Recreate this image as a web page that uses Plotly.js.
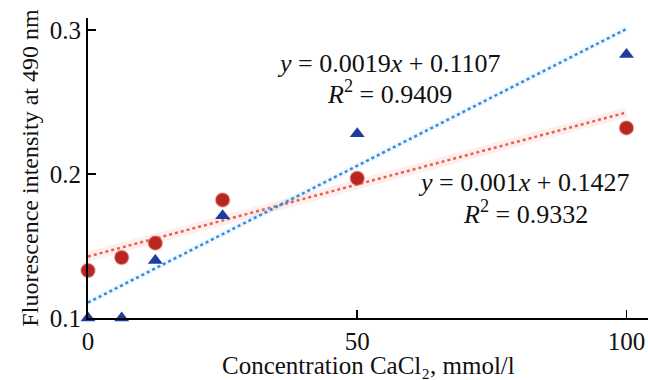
<!DOCTYPE html>
<html>
<head>
<meta charset="utf-8">
<script src="https://cdn.plot.ly/plotly-3.0.1.min.js"></script>
<style>html,body{margin:0;padding:0;background:#fff;}#chart{width:648px;height:380px;}</style>
</head>
<body>
<div id="chart"></div>
<script>
// Data
var conc = [0, 6.25, 12.5, 25, 50, 100];
var redValues = [0.133, 0.142, 0.152, 0.182, 0.197, 0.232];
var blueValues = [0.100, 0.100, 0.140, 0.171, 0.228, 0.283];
var redFit = {slope: 0.001, intercept: 0.1427, r2: 0.9332};
var blueFit = {slope: 0.0019, intercept: 0.1107, r2: 0.9409};
var fitX = [0, 100];
var xTicks = [0, 50, 100];
var yTicks = [0.1, 0.2, 0.3];

function fitLine(f) { return fitX.map(function (x) { return f.slope * x + f.intercept; }); }

var font = "Liberation Serif, Times New Roman, serif";

var traces = [
  {x: fitX, y: fitLine(redFit), mode: 'lines', line: {color: 'rgba(240,140,130,0.14)', width: 10}, hoverinfo: 'skip'},
  {x: fitX, y: fitLine(redFit), mode: 'lines', line: {color: '#e8604f', width: 2.5, dash: 'dot'}, hoverinfo: 'skip'},
  {x: fitX, y: fitLine(blueFit), mode: 'lines', line: {color: 'rgba(120,170,240,0.10)', width: 6}, hoverinfo: 'skip'},
  {x: fitX, y: fitLine(blueFit), mode: 'lines', line: {color: '#2a8ee0', width: 2.5, dash: 'dot'}, hoverinfo: 'skip'},
  {x: conc, y: redValues, mode: 'markers', cliponaxis: false,
   marker: {symbol: 'circle', size: 14, color: '#b8261f', line: {color: 'rgba(220,120,110,0.5)', width: 1.5}}},
  {x: conc, y: blueValues, mode: 'markers', cliponaxis: false,
   marker: {symbol: 'triangle-up', size: 13, color: '#1f3d9c'}}
];

function ann(x, y, text) {
  return {x: x, y: y, xref: 'x', yref: 'y', showarrow: false, align: 'center',
          xanchor: 'center', yanchor: 'middle', text: text,
          font: {family: font, size: 26, color: '#111'}};
}

var layout = {
  width: 648, height: 380,
  margin: {l: 88, r: 0, t: 18, b: 62},
  paper_bgcolor: '#fff', plot_bgcolor: '#fff',
  showlegend: false,
  font: {family: font, color: '#111', size: 25},
  xaxis: {
    range: [0, 104], tickvals: xTicks, ticktext: xTicks.map(String),
    ticks: 'inside', ticklen: 8, tickwidth: 1.5, tickcolor: '#000',
    showline: true, linecolor: '#000', linewidth: 2, showgrid: false, zeroline: false,
    tickfont: {family: font, size: 25, color: '#111'},
    title: {text: ''}
  },
  yaxis: {
    range: [0.1, 0.3083], tickvals: yTicks, ticktext: yTicks.map(function (v) { return v.toFixed(1); }),
    ticks: 'inside', ticklen: 8, tickwidth: 1.5, tickcolor: '#000',
    showline: true, linecolor: '#000', linewidth: 2, showgrid: false, zeroline: false,
    tickfont: {family: font, size: 25, color: '#111'},
    title: {text: 'Fluorescence intensity at 490 nm', font: {family: font, size: 24, color: '#111'}, standoff: 4}
  },
  annotations: [
    {x: 0.5, y: 0, xref: 'paper', yref: 'paper', yshift: -47, xanchor: 'center', yanchor: 'middle',
     showarrow: false, text: 'Concentration CaCl₂, mmol/l',
     font: {family: font, size: 25, color: '#111'}},
    ann(55.8, 0.2770, '<i>y</i> = 0.0019<i>x</i> + 0.1107'),
    ann(55.9, 0.2563, '<i>R</i><sup>2</sup> = 0.9409'),
    ann(80.8, 0.1944, '<i>y</i> = 0.001<i>x</i> + 0.1427'),
    ann(81.2, 0.1736, '<i>R</i><sup>2</sup> = 0.9332')
  ]
};

Plotly.newPlot('chart', traces, layout, {displayModeBar: false, staticPlot: true});
</script>
</body>
</html>
